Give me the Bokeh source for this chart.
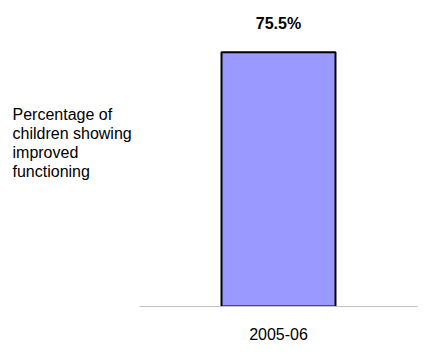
from bokeh.plotting import figure
from bokeh.models import ColumnDataSource, FactorRange, Range1d, Label
from bokeh.layouts import row
from bokeh.embed import file_html
from bokeh.resources import INLINE
from bokeh.core.properties import value

years = ["2005-06"]
pct = [75.5]
pct_labels = ["75.5%"]
y_title = "Percentage of\nchildren showing\nimproved\nfunctioning"

src = ColumnDataSource(dict(x=years, y=pct, lab=pct_labels))

# left panel holding the descriptive text
side = figure(width=139, height=353, output_backend="svg", toolbar_location=None,
              x_range=Range1d(0, 1), y_range=Range1d(0, 1),
              min_border=0)
side.axis.visible = False
side.grid.visible = False
side.outline_line_color = None
side.background_fill_color = "white"
side.border_fill_color = "white"
side.add_layout(Label(x=12, y=201, x_units="screen", y_units="screen", text=y_title,
                      text_font="Liberation Sans", text_font_size="16px", text_color="black",
                      text_align="left", text_baseline="top", text_line_height=1.12))

p = figure(width=292, height=353, output_backend="svg", toolbar_location=None,
           x_range=FactorRange(factors=years, range_padding=0),
           y_range=Range1d(0, 90),
           min_border_left=0, min_border_right=14, min_border_top=3, min_border_bottom=47)
p.outline_line_color = None
p.grid.visible = False
p.yaxis.visible = False
p.background_fill_color = "white"
p.border_fill_color = "white"

p.vbar(x="x", top="y", bottom=0, width=0.41, source=src,
       fill_color="#9999FF", line_color="black", line_width=2)

p.text(x="x", y="y", text="lab", source=src, y_offset=-29,
       text_align="center", text_baseline="middle",
       text_font=value("Liberation Sans"), text_font_size="16px",
       text_font_style="bold", text_color="black")

ax = p.xaxis[0]
ax.axis_line_color = "#C0C0C0"
ax.axis_line_width = 1
ax.major_tick_line_color = None
ax.minor_tick_line_color = None
ax.major_tick_out = 0
ax.major_tick_in = 0
ax.major_label_standoff = 21
ax.major_label_text_font = "Liberation Sans"
ax.major_label_text_font_size = "16px"
ax.major_label_text_color = "black"

layout = row(side, p, spacing=0)

open("out.html", "w").write(file_html(layout, INLINE))
